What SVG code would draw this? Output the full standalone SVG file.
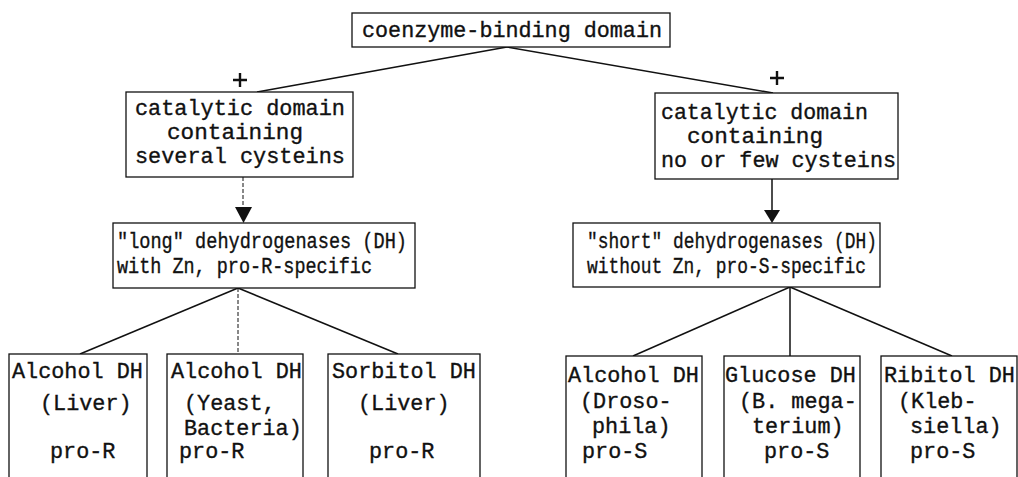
<svg xmlns="http://www.w3.org/2000/svg" width="1018" height="477" viewBox="0 0 1018 477">
  <style>
    .box { fill: #fff; stroke: #111; stroke-width: 1.3; }
    .t { font-family: "Liberation Mono", "DejaVu Sans Mono", monospace; font-size: 21.8px; fill: #111; stroke: #111; stroke-width: 0.35; }
    .s { font-size: 21.5px; }
    .ln { stroke: #111; stroke-width: 1.5; fill: none; }
    .dash { stroke: #111; stroke-width: 1; fill: none; stroke-dasharray: 4 2; }
    .plus { stroke: #111; stroke-width: 2.4; fill: none; }
    .head { fill: #111; }
  </style>
  <rect width="1018" height="477" fill="#fff"/>

  <!-- connectors -->
  <g id="connectors">
    <line class="ln" x1="507" y1="47" x2="257" y2="92"/>
    <line class="ln" x1="507" y1="47" x2="773" y2="93"/>
    <!-- "+" marks above the catalytic domains -->
    <path class="plus" d="M233,80 H247 M240,73 V87"/>
    <path class="plus" d="M770,78 H784 M777,71 V85"/>
    <!-- down arrows -->
    <line class="dash" x1="243" y1="177" x2="243" y2="207"/>
    <path class="head" d="M235,207 L252,207 L243.5,223 Z"/>
    <line class="ln" x1="772" y1="179" x2="772" y2="211"/>
    <path class="head" d="M764,210 L780,210 L772,223 Z"/>
    <!-- long DH branches -->
    <line class="ln" x1="238" y1="288" x2="80" y2="354"/>
    <line class="dash" x1="238" y1="288" x2="238" y2="354"/>
    <line class="ln" x1="238" y1="288" x2="398" y2="354"/>
    <!-- short DH branches -->
    <line class="ln" x1="790" y1="287" x2="633" y2="356"/>
    <line class="ln" x1="790" y1="287" x2="790" y2="356"/>
    <line class="ln" x1="790" y1="287" x2="952" y2="356"/>
  </g>

  <g id="coenzyme">
    <rect class="box" x="352" y="13" width="318" height="34"/>
    <text class="t" x="362" y="37" textLength="300" lengthAdjust="spacingAndGlyphs">coenzyme-binding domain</text>
  </g>

  <g id="catalytic-several">
    <rect class="box" x="126" y="92" width="227" height="85"/>
    <text class="t" x="135" y="115" textLength="210" lengthAdjust="spacingAndGlyphs">catalytic domain</text>
    <text class="t" x="167" y="139" textLength="136" lengthAdjust="spacingAndGlyphs">containing</text>
    <text class="t" x="135" y="163" textLength="210" lengthAdjust="spacingAndGlyphs">several cysteins</text>
  </g>

  <g id="catalytic-few">
    <rect class="box" x="655" y="93" width="243" height="86"/>
    <text class="t" x="661" y="119" textLength="207" lengthAdjust="spacingAndGlyphs">catalytic domain</text>
    <text class="t" x="687" y="143" textLength="136" lengthAdjust="spacingAndGlyphs">containing</text>
    <text class="t" x="661" y="167" textLength="235" lengthAdjust="spacingAndGlyphs">no or few cysteins</text>
  </g>

  <g id="long-dh">
    <rect class="box" x="113" y="223" width="302" height="65"/>
    <text class="t s" x="117" y="248" textLength="290" lengthAdjust="spacingAndGlyphs">"long" dehydrogenases (DH)</text>
    <text class="t s" x="117" y="273" textLength="255" lengthAdjust="spacingAndGlyphs">with Zn, pro-R-specific</text>
  </g>

  <g id="short-dh">
    <rect class="box" x="573" y="223" width="307" height="64"/>
    <text class="t s" x="587" y="248" textLength="290" lengthAdjust="spacingAndGlyphs">"short" dehydrogenases (DH)</text>
    <text class="t s" x="587" y="273" textLength="279" lengthAdjust="spacingAndGlyphs">without Zn, pro-S-specific</text>
  </g>

  <g id="adh-liver">
    <rect class="box" x="9" y="354" width="138" height="130"/>
    <text class="t" x="12" y="378">Alcohol DH</text>
    <text class="t" x="40" y="410">(Liver)</text>
    <text class="t" x="50" y="458">pro-R</text>
  </g>

  <g id="adh-yeast">
    <rect class="box" x="167" y="354" width="136" height="130"/>
    <text class="t" x="171" y="378">Alcohol DH</text>
    <text class="t" x="184" y="410">(Yeast,</text>
    <text class="t" x="184" y="435">Bacteria)</text>
    <text class="t" x="179" y="458">pro-R</text>
  </g>

  <g id="sdh-liver">
    <rect class="box" x="328" y="354" width="152" height="130"/>
    <text class="t" x="332" y="378">Sorbitol DH</text>
    <text class="t" x="358" y="410">(Liver)</text>
    <text class="t" x="369" y="458">pro-R</text>
  </g>

  <g id="adh-drosophila">
    <rect class="box" x="566" y="356" width="136" height="130"/>
    <text class="t" x="568" y="382">Alcohol DH</text>
    <text class="t" x="580" y="408">(Droso-</text>
    <text class="t" x="592" y="433">phila)</text>
    <text class="t" x="582" y="458">pro-S</text>
  </g>

  <g id="gdh-megaterium">
    <rect class="box" x="724" y="356" width="136" height="130"/>
    <text class="t" x="725" y="382">Glucose DH</text>
    <text class="t" x="739" y="408">(B. mega-</text>
    <text class="t" x="752" y="433">terium)</text>
    <text class="t" x="764" y="458">pro-S</text>
  </g>

  <g id="rdh-klebsiella">
    <rect class="box" x="881" y="356" width="136" height="130"/>
    <text class="t" x="884" y="382">Ribitol DH</text>
    <text class="t" x="898" y="408">(Kleb-</text>
    <text class="t" x="910" y="433">siella)</text>
    <text class="t" x="910" y="458">pro-S</text>
  </g>
</svg>
